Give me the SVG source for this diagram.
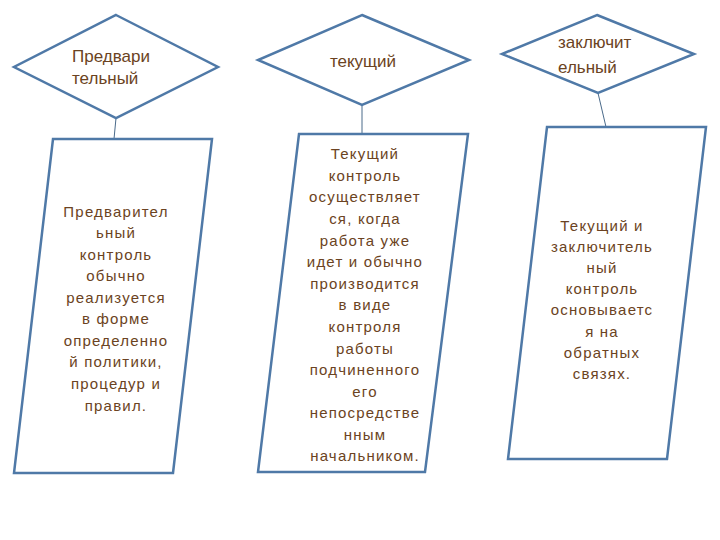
<svg xmlns="http://www.w3.org/2000/svg" width="720" height="540" viewBox="0 0 720 540">
<style>
.shape{fill:#ffffff;stroke:#4f79a7;stroke-width:2.5;stroke-linejoin:miter}
.conn{stroke:#4a6a8a;stroke-width:1;fill:none}
.t{font-family:"Liberation Sans","Noto Sans",sans-serif;font-size:15px;letter-spacing:1.2px;fill:#6b4322}
.d{font-family:"Liberation Sans","Noto Sans",sans-serif;font-size:17px;fill:#6b4322}
.c{text-anchor:middle}
</style>
<rect width="720" height="540" fill="#ffffff"/>
<g id="connectors">
<line class="conn" x1="116" y1="118" x2="114" y2="139"/>
<line class="conn" x1="362" y1="105" x2="362" y2="134"/>
<line class="conn" x1="598" y1="93" x2="606" y2="127"/>
</g>
<g id="diamond1">
<polygon class="shape" points="116,15 218,67 116,118 14,67"/>
<text class="d" x="72" y="62">Предвари</text>
<text class="d" x="72" y="84">тельный</text>
</g>
<g id="diamond2">
<polygon class="shape" points="362,15 469,60 362,105 258,60"/>
<text class="d c" x="363" y="67">текущий</text>
</g>
<g id="diamond3">
<polygon class="shape" points="597,15 694,54 598,93 502,54"/>
<text class="d" x="558" y="48">заключит</text>
<text class="d" x="558" y="73">ельный</text>
</g>
<g id="box1">
<polygon class="shape" points="53,139 212,139 173,473 14,473"/>
<g class="t c">
<text x="116" y="217">Предварител</text>
<text x="116" y="238">ьный</text>
<text x="116" y="260">контроль</text>
<text x="116" y="281">обычно</text>
<text x="116" y="303">реализуется</text>
<text x="116" y="324">в форме</text>
<text x="116" y="346">определенно</text>
<text x="116" y="367">й политики,</text>
<text x="116" y="389">процедур и</text>
<text x="116" y="411">правил.</text>
</g>
</g>
<g id="box2">
<polygon class="shape" points="299,134 468,134 425,472 258,472"/>
<g class="t c">
<text x="365" y="159">Текущий</text>
<text x="365" y="181">контроль</text>
<text x="365" y="202">осуществляет</text>
<text x="365" y="224">ся, когда</text>
<text x="365" y="246">работа уже</text>
<text x="365" y="267">идет и обычно</text>
<text x="365" y="289">производится</text>
<text x="365" y="310">в виде</text>
<text x="365" y="332">контроля</text>
<text x="365" y="354">работы</text>
<text x="365" y="375">подчиненного</text>
<text x="365" y="397">его</text>
<text x="365" y="418">непосредстве</text>
<text x="365" y="440">нным</text>
<text x="365" y="461">начальником.</text>
</g>
</g>
<g id="box3">
<polygon class="shape" points="547,127 706,127 667,459 508,459"/>
<g class="t c">
<text x="602" y="231">Текущий и</text>
<text x="602" y="252">заключитель</text>
<text x="602" y="273">ный</text>
<text x="602" y="294">контроль</text>
<text x="602" y="315">основываетс</text>
<text x="602" y="337">я на</text>
<text x="602" y="358">обратных</text>
<text x="602" y="379">связях.</text>
</g>
</g>
</svg>
